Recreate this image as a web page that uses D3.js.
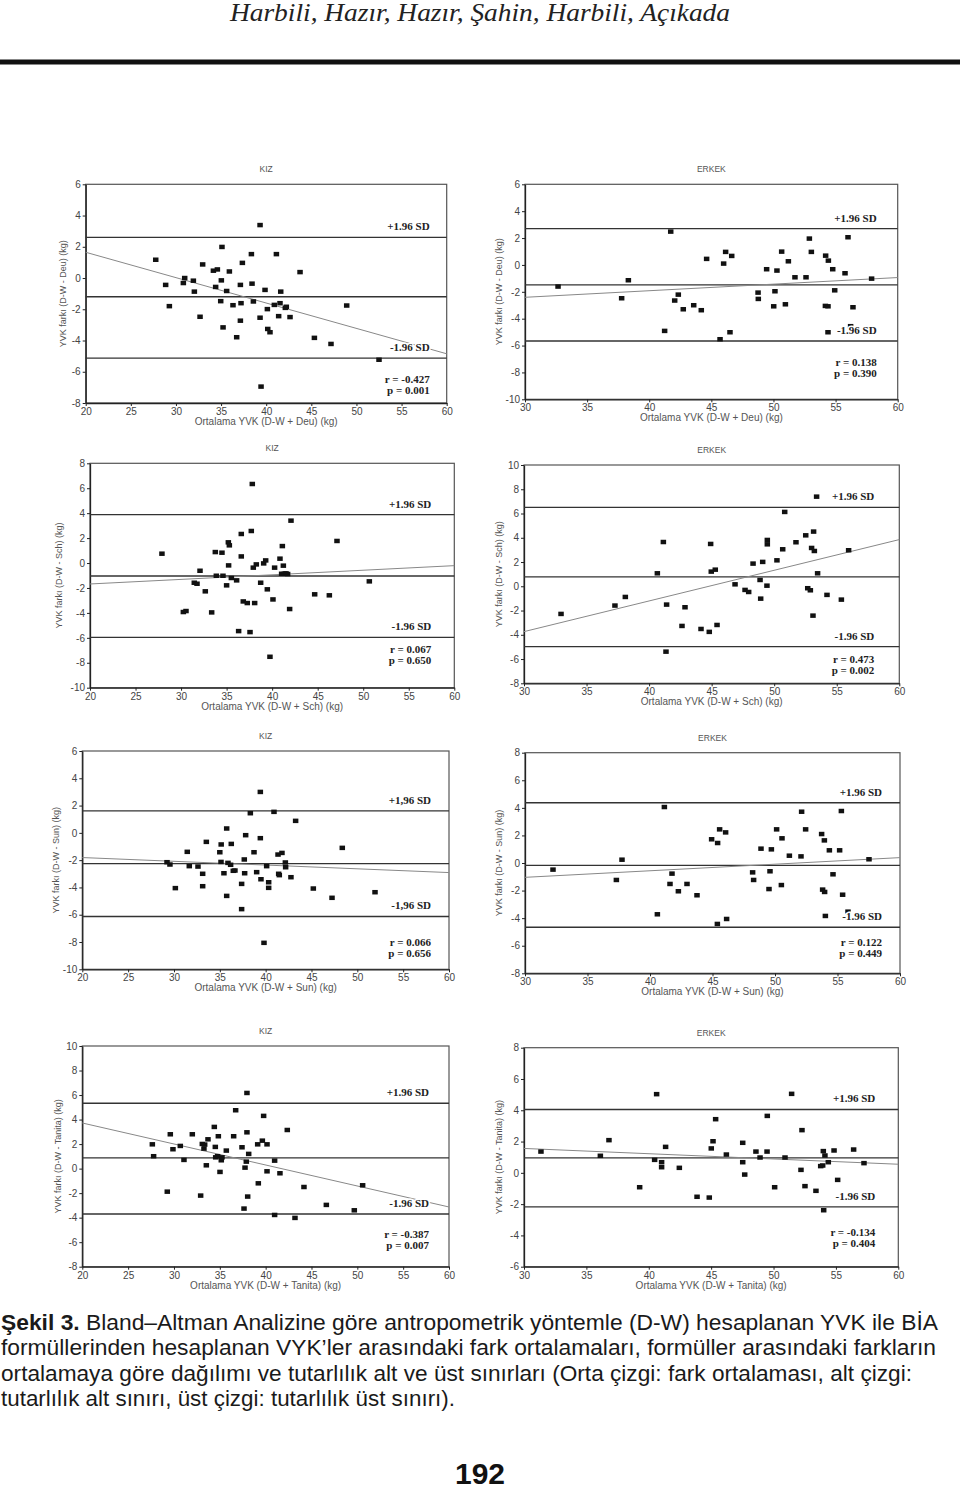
<!DOCTYPE html>
<html><head><meta charset="utf-8">
<script src="https://cdn.jsdelivr.net/npm/d3@7"></script>
<style>body{margin:0;background:#fff} svg{display:block}</style>
</head><body><svg id="c" width="960" height="1493"></svg>
<script>
// ---------- DATA ----------
const panelTitles = ["KIZ","ERKEK","KIZ","ERKEK","KIZ","ERKEK","KIZ","ERKEK"];
const methods = ["Deu","Deu","Sch","Sch","Sun","Sun","Tanita","Tanita"];
const xDomains = [[20,60],[30,60],[20,60],[30,60],[20,60],[30,60],[20,60],[30,60]];
const yDomains = [[-8,6],[-10,6],[-10,8],[-8,10],[-10,6],[-8,8],[-8,10],[-6,8]];
const meanDiff = [-1.2,-1.49,-1.04,0.77,-2.26,-0.17,0.87,0.96];
const upperLoA = [2.6,2.7,3.88,6.51,1.61,4.37,5.33,4.05];
const lowerLoA = [-5.13,-5.66,-5.96,-4.97,-6.13,-4.66,-3.7,-2.17];
const regAtMin = [1.65,-2.41,-1.68,-3.74,-1.81,-1.04,3.72,1.56];
const regAtMax = [-4.85,-0.94,-0.21,3.85,-2.91,0.39,-3.13,0.55];
const rValues = ["-0.427","0.138","0.067","0.473","0.066","0.122","-0.387","-0.134"];
const pValues = ["0.001","0.390","0.650","0.002","0.656","0.449","0.007","0.404"];
const upperLabels = ["+1.96 SD","+1.96 SD","+1.96 SD","+1.96 SD","+1,96 SD","+1.96 SD","+1.96 SD","+1.96 SD"];
const lowerLabels = ["-1.96 SD","-1.96 SD","-1.96 SD","-1.96 SD","-1,96 SD","-1.96 SD","-1.96 SD","-1.96 SD"];

const deuKiz = [[27.76,1.17],[28.86,-0.44],[29.27,-1.8],[30.82,-0.32],[30.97,0.0],[31.93,-0.17],[32.04,-0.87],[32.67,-2.48],[32.96,0.87],[34.15,0.47],[34.59,0.55],[34.4,-0.57],[35.1,1.99],[35.03,-0.15],[34.96,-1.48],[35.22,-3.16],[35.62,-0.83],[35.92,0.42],[36.32,-1.74],[36.73,-3.79],[37.36,0.97],[37.14,-0.44],[37.21,-1.61],[37.14,-2.73],[38.36,1.53],[38.43,-0.36],[38.58,-1.5],[39.32,3.39],[39.32,-2.54],[39.43,-6.95],[39.87,-0.76],[40.13,-1.99],[40.17,-3.26],[40.42,-3.47],[40.9,-1.72],[41.13,1.53],[41.38,-2.44],[41.53,-1.61],[41.61,-0.87],[42.12,-1.91],[42.23,-1.84],[42.64,-2.5],[43.75,0.38],[45.34,-3.83],[47.18,-4.22],[48.92,-1.76],[52.5,-5.23]];
const deuErkek = [[32.66,-1.61],[37.78,-2.48],[38.32,-1.14],[41.73,2.48],[41.24,-4.91],[42.05,-2.65],[42.34,-2.21],[42.74,-3.3],[43.58,-3.0],[44.19,-3.37],[44.62,0.45],[45.7,-5.53],[45.99,0.1],[46.15,0.97],[46.64,0.67],[46.5,-5.01],[48.76,-2.06],[48.78,-2.53],[49.45,-0.32],[50.02,-3.08],[50.12,-1.96],[50.28,-0.42],[50.66,0.99],[50.96,-2.93],[51.2,0.27],[51.73,-0.92],[52.62,-0.92],[52.89,1.96],[53.05,0.97],[54.2,0.69],[54.42,0.32],[54.18,-3.05],[54.39,-3.08],[54.39,-5.01],[54.77,-0.32],[54.93,-1.89],[55.76,-0.62],[56.0,2.06],[56.21,-4.56],[56.4,-3.15],[57.9,-1.02]];
const schKiz = [[27.9,0.75],[30.25,-3.93],[30.54,-3.85],[31.45,-1.58],[31.75,-1.66],[32.08,-0.62],[32.66,-2.27],[33.36,-3.96],[33.76,0.88],[33.87,-1.02],[34.49,0.83],[34.6,-1.02],[35.0,-1.79],[35.19,1.66],[35.3,1.42],[35.22,-0.19],[35.52,-1.2],[36.1,-1.39],[36.32,-5.46],[36.61,2.33],[36.61,0.53],[36.83,-3.08],[37.27,-3.21],[37.57,-5.54],[37.71,2.57],[37.82,6.34],[37.93,-0.37],[38.08,-3.21],[38.26,-0.11],[38.74,-1.58],[39.07,-0.03],[39.29,0.21],[39.47,-2.11],[39.76,-7.52],[40.09,-2.92],[40.27,-0.37],[40.86,0.35],[41.12,1.36],[41.04,-0.86],[41.23,-0.21],[41.34,-0.86],[41.52,-0.83],[41.7,-0.88],[41.92,-3.69],[42.07,3.4],[44.67,-2.51],[46.28,-2.59],[47.12,1.77],[50.67,-1.47]];
const schErkek = [[32.96,-2.28],[37.27,-1.59],[38.1,-0.88],[40.66,1.07],[41.14,3.65],[41.4,-1.51],[41.35,-5.39],[42.63,-3.27],[42.87,-1.73],[44.15,-3.52],[44.81,-3.76],[44.92,3.49],[44.97,1.21],[45.29,1.37],[45.43,-3.19],[46.87,0.16],[47.67,-0.3],[47.96,-0.47],[48.31,1.87],[48.87,0.52],[48.92,-1.02],[49.08,2.01],[49.45,3.82],[49.45,3.46],[49.42,0.05],[50.22,2.14],[50.68,3.05],[50.84,6.13],[51.74,3.63],[52.52,4.2],[52.68,-0.16],[52.89,-0.33],[52.99,3.16],[53.15,4.51],[53.21,2.91],[53.1,-2.42],[53.39,7.39],[53.47,1.07],[54.22,-0.71],[55.37,-1.1],[55.95,2.97]];
const sunKiz = [[29.24,-2.15],[29.56,-2.32],[30.15,-4.05],[31.45,-1.39],[31.67,-2.44],[32.62,-2.47],[33.13,-3.0],[33.13,-3.91],[33.53,-0.66],[35.0,-1.42],[35.13,-2.13],[35.15,-0.85],[35.45,-2.96],[35.75,0.32],[35.75,-4.62],[35.89,-2.2],[36.18,-2.34],[36.25,-0.81],[36.47,-2.78],[36.65,-2.76],[37.38,-3.74],[37.38,-5.59],[37.67,-1.95],[37.71,-2.96],[37.82,-0.17],[38.33,1.44],[38.73,-1.42],[39.02,-2.88],[39.42,3.0],[39.42,-0.39],[39.49,-3.4],[39.82,-8.06],[40.11,-2.44],[40.33,-3.62],[40.33,-4.03],[40.91,1.54],[41.35,-1.59],[41.42,-3.0],[41.49,-3.1],[41.78,-1.47],[42.15,-2.17],[42.18,-2.52],[42.76,-3.25],[43.27,0.88],[45.2,-4.08],[47.24,-4.76],[48.36,-1.1],[51.93,-4.35]];
const sunErkek = [[32.24,-0.48],[37.31,-1.23],[37.76,0.24],[40.59,-3.72],[41.15,4.06],[41.6,-1.52],[41.76,-0.77],[42.27,-2.05],[42.96,-1.52],[43.76,-2.34],[44.93,1.72],[45.41,1.45],[45.39,-4.42],[45.57,2.44],[46.05,2.22],[46.13,-4.06],[48.21,-0.68],[48.29,-1.23],[48.88,1.04],[49.52,-1.89],[49.6,-0.6],[49.71,0.99],[50.13,2.44],[50.51,-1.6],[50.56,1.79],[51.15,0.53],[52.08,0.48],[52.13,3.72],[52.45,2.44],[53.73,2.1],[53.81,-1.93],[53.95,1.64],[53.97,-2.1],[54.03,-3.84],[54.35,0.92],[54.64,-0.82],[55.17,0.92],[55.31,3.77],[55.41,-2.3],[55.84,-3.53],[57.52,0.27]];
const tanitaKiz = [[27.64,1.98],[27.78,1.01],[29.27,-1.88],[29.6,2.8],[29.89,1.58],[30.69,1.85],[31.09,0.71],[32.0,2.8],[32.91,-2.2],[33.09,2.01],[33.27,1.63],[33.35,1.96],[33.53,0.27],[33.71,2.39],[34.4,3.4],[34.51,1.77],[34.55,0.92],[34.76,1.01],[34.84,2.64],[35.02,-0.27],[35.16,0.68],[35.24,0.92],[35.71,1.47],[36.51,2.64],[36.73,4.76],[37.42,1.74],[37.64,-3.26],[37.75,0.08],[37.89,0.57],[37.96,2.96],[37.96,6.17],[38.04,-2.28],[38.15,1.2],[39.2,-1.2],[39.13,1.98],[39.64,2.28],[39.78,4.3],[40.15,1.98],[40.15,-0.22],[40.98,0.65],[40.98,-3.78],[41.56,-0.38],[42.36,3.15],[43.2,-4.02],[44.18,-1.5],[46.62,-2.96],[49.67,-3.4],[50.58,-1.36]];
const tanitaErkek = [[31.36,1.36],[36.12,1.09],[36.81,2.09],[39.27,-0.92],[40.47,0.83],[40.63,5.03],[41.03,0.68],[41.03,0.36],[41.35,1.66],[42.45,0.32],[43.87,-1.53],[44.85,-1.58],[45.01,1.56],[45.15,2.02],[45.36,3.43],[46.22,1.17],[47.53,1.92],[47.53,0.68],[47.69,-0.11],[48.59,1.36],[48.92,0.98],[49.48,1.36],[49.5,3.64],[50.09,-0.92],[50.92,0.98],[51.45,5.05],[52.2,0.19],[52.28,2.73],[52.52,-0.85],[53.4,-1.15],[53.78,0.43],[53.94,0.47],[53.99,1.39],[54.12,1.11],[54.02,-2.39],[54.39,0.68],[54.85,1.43],[55.14,-0.45],[56.42,1.49],[57.25,0.62]];
const panelPoints = [deuKiz,deuErkek,schKiz,schErkek,sunKiz,sunErkek,tanitaKiz,tanitaErkek];

const headerText = "Harbili, Hazır, Hazır, Şahin, Harbili, Açıkada";
const captionLines = [
  ["Şekil 3."," Bland–Altman Analizine göre antropometrik yöntemle (D-W) hesaplanan YVK ile BİA"],
  ["","formüllerinden hesaplanan VYK’ler arasındaki fark ortalamaları, formüller arasındaki farkların"],
  ["","ortalamaya göre dağılımı ve tutarlılık alt ve üst sınırları (Orta çizgi: fark ortalaması, alt çizgi:"],
  ["","tutarlılık alt sınırı, üst çizgi: tutarlılık üst sınırı)."]
];
const pageNumber = "192";

// ---------- LAYOUT ----------
const layout = [
 {l:85.7,r:446.7,t:184.3,b:403,rY:383,ins:17,yl:22},
 {l:525,r:897.7,t:184.3,b:399.3,rY:366,ins:21,yl:25},
 {l:90,r:454.3,t:463.3,b:687.7,rY:653,ins:23,yl:30},
 {l:524,r:899.3,t:465,b:683.3,rY:663,ins:25,yl:24},
 {l:82.3,r:449,t:751,b:969.3,rY:946,ins:18,yl:26},
 {l:525,r:900,t:752.7,b:973.3,rY:946,ins:18,yl:25},
 {l:82.3,r:449,t:1046,b:1266.7,rY:1238,ins:20,yl:24},
 {l:524,r:898.3,t:1047.7,b:1266.7,rY:1236,ins:23,yl:24}
];
const capBase = [1329.5,1355,1380.5,1406];
const capWidths = [937,935,911,454];
const SANS = "'Liberation Sans', Arial, sans-serif";
const SERIF = "'Liberation Serif', 'Times New Roman', serif";

const svg = d3.select("#c");
svg.append("rect").attr("width",960).attr("height",1493).attr("fill","#fff");

// header
svg.append("text").attr("x",480).attr("y",21).attr("text-anchor","middle")
  .attr("font-family",SERIF).attr("font-style","italic").attr("font-size",25)
  .attr("fill","#222").attr("textLength",500).attr("lengthAdjust","spacingAndGlyphs")
  .text(headerText);
svg.append("rect").attr("x",0).attr("y",59.5).attr("width",960).attr("height",5).attr("fill","#111");

panelPoints.forEach((pts,i)=>{
  const L = layout[i];
  const xd = xDomains[i], yd = yDomains[i];
  const x = d3.scaleLinear().domain(xd).range([L.l,L.r]);
  const y = d3.scaleLinear().domain(yd).range([L.b,L.t]);
  const g = svg.append("g");

  g.append("rect").attr("x",L.l).attr("y",L.t).attr("width",L.r-L.l).attr("height",L.b-L.t)
    .attr("fill","none").attr("stroke","#555").attr("stroke-width",1.2);

  const ya = g.append("g").attr("transform",`translate(${L.l},0)`)
    .call(d3.axisLeft(y).tickValues(d3.range(yd[0],yd[1]+0.01,2)).tickSize(3).tickSizeOuter(0).tickPadding(2).tickFormat(d=>String(d)));
  const xa = g.append("g").attr("transform",`translate(0,${L.b})`)
    .call(d3.axisBottom(x).tickValues(d3.range(xd[0],xd[1]+0.01,5)).tickSize(3).tickSizeOuter(0).tickPadding(2).tickFormat(d=>String(d)));
  [ya,xa].forEach(a=>{
    a.selectAll("path").attr("stroke","#222").attr("stroke-width",1.3);
    a.selectAll("line").attr("stroke","#222");
    a.selectAll("text").attr("font-family",SANS).attr("font-size",10).attr("fill","#444");
  });

  [upperLoA[i],meanDiff[i],lowerLoA[i]].forEach(v=>{
    g.append("line").attr("x1",x(xd[0])).attr("x2",x(xd[1])).attr("y1",y(v)).attr("y2",y(v))
      .attr("stroke","#333").attr("stroke-width",1.3);
  });
  g.append("line").attr("x1",x(xd[0])).attr("x2",x(xd[1])).attr("y1",y(regAtMin[i])).attr("y2",y(regAtMax[i]))
    .attr("stroke","#888").attr("stroke-width",1);

  g.selectAll("rect.pt").data(pts).enter().append("rect").attr("class","pt")
    .attr("x",d=>x(d[0])-2.75).attr("y",d=>y(d[1])-2.25).attr("width",5.5).attr("height",4.5)
    .attr("fill","#111");

  const lab = (txt,yy)=>g.append("text").attr("x",L.r-L.ins).attr("y",yy).attr("text-anchor","end")
    .attr("font-family",SERIF).attr("font-weight","bold").attr("font-size",11).attr("fill","#222")
    .attr("stroke","#fff").attr("stroke-width",3).attr("paint-order","stroke").text(txt);
  lab(upperLabels[i], y(upperLoA[i])-7);
  lab(lowerLabels[i], y(lowerLoA[i])-7);
  lab(`r = ${rValues[i]}`, L.rY);
  lab(`p = ${pValues[i]}`, L.rY+11);

  g.append("text").attr("x",(L.l+L.r)/2).attr("y",L.t-12).attr("text-anchor","middle")
    .attr("font-family",SANS).attr("font-size",8.5).attr("fill","#555").text(panelTitles[i]);
  g.append("text").attr("transform",`translate(${L.l-L.yl},${(L.t+L.b)/2}) rotate(-90)`)
    .attr("text-anchor","middle").attr("dominant-baseline","middle")
    .attr("font-family",SANS).attr("font-size",9).attr("fill","#555")
    .text(`YVK farkı (D-W - ${methods[i]}) (kg)`);
  g.append("text").attr("x",(L.l+L.r)/2).attr("y",L.b+22).attr("text-anchor","middle")
    .attr("font-family",SANS).attr("font-size",10).attr("fill","#555")
    .text(`Ortalama YVK (D-W + ${methods[i]}) (kg)`);
});

// caption
captionLines.forEach((ln,k)=>{
  const t = svg.append("text").attr("x",1).attr("y",capBase[k])
    .attr("font-family",SANS).attr("font-size",21.5).attr("fill","#1a1a1a")
    .attr("textLength",capWidths[k]).attr("lengthAdjust","spacingAndGlyphs");
  if (ln[0]) t.append("tspan").attr("font-weight","bold").text(ln[0]);
  t.append("tspan").text(ln[1]);
});

svg.append("text").attr("x",480).attr("y",1484).attr("text-anchor","middle")
  .attr("font-family",SANS).attr("font-weight","bold").attr("font-size",30).attr("fill","#111")
  .text(pageNumber);
</script></body></html>
